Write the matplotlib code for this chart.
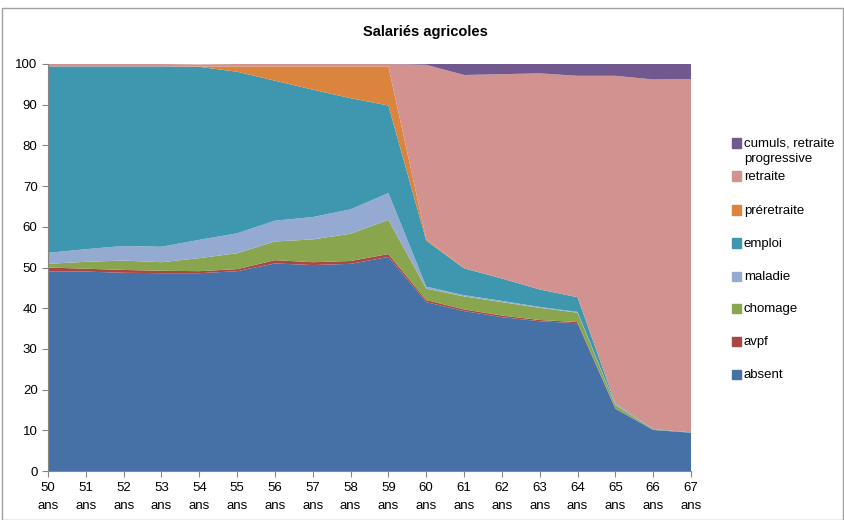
import numpy as np
import matplotlib
matplotlib.use("Agg")
import matplotlib.pyplot as plt
from matplotlib.patches import Rectangle

plt.rcParams['font.family'] = ['Liberation Sans', 'DejaVu Sans']

# Ages (50 ans .. 67 ans)
ages = np.arange(50, 68)
age_labels = [f"{a}\nans" for a in ages]

# Parts (%) par statut, empilées de bas en haut
absent = [49.0, 49.0, 48.7, 48.6, 48.6, 49.1, 51.0, 50.6, 50.9, 52.6,
          41.5, 39.3, 37.8, 36.8, 36.3, 15.3, 10.1, 9.4]
avpf = [1.0, 0.7, 0.7, 0.6, 0.5, 0.5, 0.8, 0.7, 0.7, 0.7,
        0.5, 0.4, 0.4, 0.3, 0.3, 0.1, 0.0, 0.0]
chomage = [0.9, 1.7, 2.3, 2.1, 3.2, 3.9, 4.6, 5.6, 6.7, 8.4,
           2.8, 3.2, 3.3, 3.0, 2.3, 0.8, 0.1, 0.0]
maladie = [2.7, 3.1, 3.6, 3.8, 4.5, 4.9, 5.1, 5.5, 6.0, 6.6,
           0.5, 0.3, 0.3, 0.2, 0.2, 0.2, 0.0, 0.0]
emploi = [45.8, 44.9, 44.1, 44.3, 42.5, 39.7, 34.4, 31.3, 27.3, 21.5,
          11.3, 6.6, 5.5, 4.3, 3.6, 0.2, 0.1, 0.1]
preretraite = [0.0, 0.0, 0.0, 0.0, 0.1, 1.3, 3.5, 5.7, 7.8, 9.6,
               0.4, 0.0, 0.0, 0.0, 0.0, 0.0, 0.0, 0.0]
retraite = [0.6, 0.6, 0.6, 0.6, 0.5, 0.6, 0.6, 0.6, 0.6, 0.6,
            42.8, 47.5, 50.2, 53.1, 54.4, 80.5, 85.9, 86.8]
cumuls = [0.0, 0.0, 0.0, 0.0, 0.0, 0.0, 0.0, 0.0, 0.0, 0.0,
          0.2, 2.7, 2.5, 2.3, 2.9, 2.9, 3.8, 3.7]

series = [absent, avpf, chomage, maladie, emploi, preretraite, retraite, cumuls]
labels = ["absent", "avpf", "chomage", "maladie", "emploi", "préretraite",
          "retraite", "cumuls, retraite\nprogressive"]
colors = ['#4671A7', '#AA4643', '#89A54E', '#95AAD0', '#3E97AF', '#DB843D',
          '#D29290', '#71588F']

fig = plt.figure(figsize=(8.45, 5.2), dpi=100)
ax = fig.add_axes([48/845, 49/520, (691-48)/845, (471-64)/520])

ax.stackplot(ages, *series, colors=colors, linewidth=0)

ax.set_xlim(50, 67)
ax.set_ylim(0, 100)
ax.set_yticks(range(0, 101, 10))
ax.set_xticks(ages)
ax.set_xticklabels(age_labels, linespacing=1.6)
ax.tick_params(axis='both', labelsize=9.5, colors='#868686', labelcolor='black',
               length=4, width=0.8)
ax.tick_params(axis='x', pad=4)
for s in ['top', 'right']:
    ax.spines[s].set_visible(False)
for s in ['left', 'bottom']:
    ax.spines[s].set_color('#868686')

fig.text(425/845, 1 - 32/520, "Salariés agricoles", ha='center', va='center',
         fontsize=10.5, fontweight='bold')

# Légende (ordre inverse, comme Excel)
leg_y = [143, 176, 210, 243, 276, 308, 341, 374]
for lab, col, y in zip(labels[::-1], colors[::-1], leg_y):
    fig.patches.append(Rectangle((732/845, 1 - (y + 4.5)/520), 9/845, 9/520,
                                 transform=fig.transFigure, color=col))
    fig.text(744/845, 1 - (y - 5)/520, lab, ha='left', va='top', fontsize=9.5,
             linespacing=1.35)

# cadre du graphique
fig.patches.append(Rectangle((2/845, 0), 841/845, 1 - 8/520,
                             transform=fig.transFigure, fill=False,
                             edgecolor='#A0A0A0', linewidth=1))

fig.savefig("out.png", dpi=100)
